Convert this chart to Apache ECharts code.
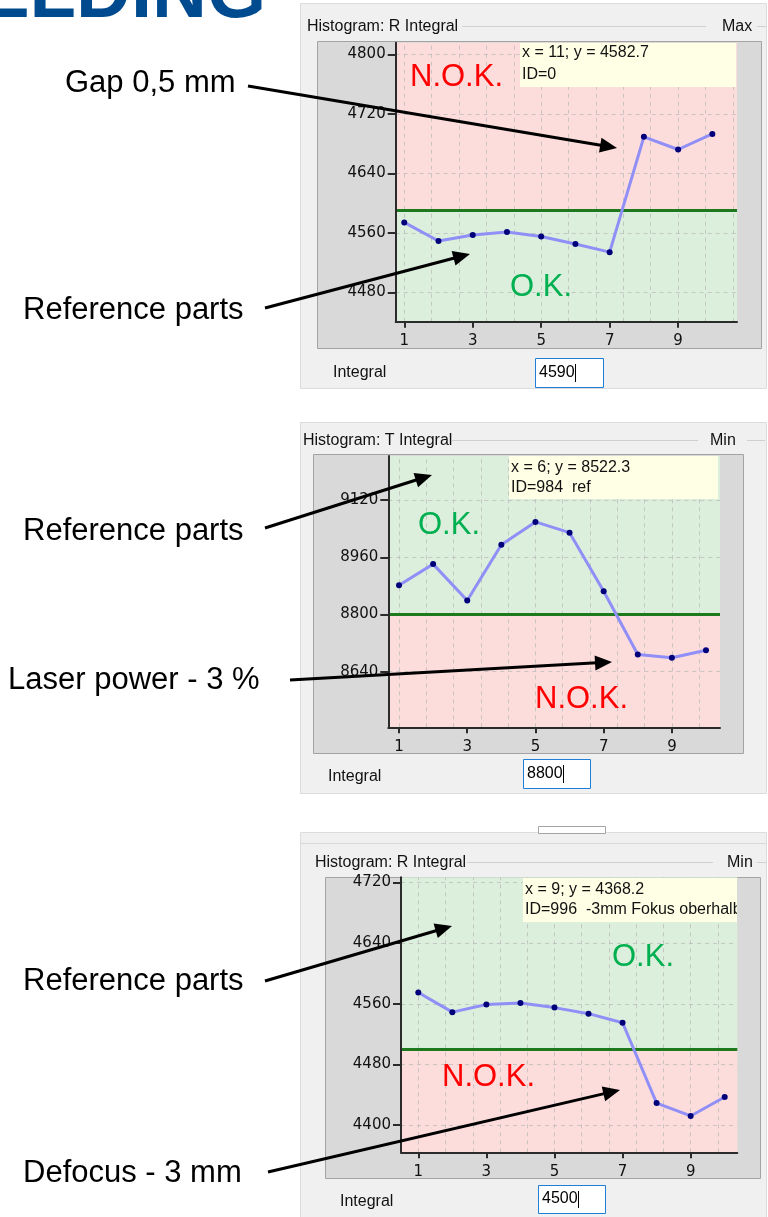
<!DOCTYPE html>
<html>
<head>
<meta charset="utf-8">
<style>
html, body { margin: 0; padding: 0; background: #fff; }
#chart { width: 768px; height: 1217px; }
</style>
<script src="https://cdn.jsdelivr.net/npm/echarts@6/dist/echarts.min.js"></script>
</head>
<body>
<div id="chart"></div>
<script>
// values
const partNo = [1, 2, 3, 4, 5, 6, 7, 8, 9, 10];
const gapValues = [4574, 4549, 4557, 4561, 4555, 4545, 4534, 4689, 4672, 4693];
const laserValues = [8882, 8941, 8839, 8995, 9059, 9029, 8865, 8688, 8679, 8700];
const defocusValues = [4575, 4549, 4559, 4561, 4555, 4547, 4535, 4429, 4412, 4437];
const limits = [4590, 8800, 4500];
const limitModes = ['Max', 'Min', 'Min'];
const xTicks = [1, 3, 5, 7, 9];
const yTicks1 = [4480, 4560, 4640, 4720, 4800];
const yTicks2 = [8640, 8800, 8960, 9120];
const yTicks3 = [4400, 4480, 4560, 4640, 4720];
const xRanges = [[0.75, 10.72], [0.686, 10.41], [0.492, 10.37]];
const yRanges = [[4440.5, 4815.6], [8484.5, 9243.4], [4364, 4727]];
const gridX1 = [1, 1.8, 2.6, 3.4, 4.2, 5, 5.8, 6.6, 7.4, 8.2, 9, 9.8, 10.6];
const gridX2 = [1, 1.8, 2.6, 3.4, 4.2, 5, 5.8, 6.6, 7.4, 8.2, 9, 9.8];
const gridX3 = [1, 1.8, 2.6, 3.4, 4.2, 5, 5.8, 6.6, 7.4, 8.2, 9, 9.8];

const PINK = '#fddcdc';
const GREEN = '#dcefdc';
const UI_FONT = '16px "Liberation Sans", Arial, sans-serif';

// plot area of each screenshot
const panels = [
  { left: 395.7, top: 42.7, width: 341.3, height: 279, values: gapValues, yTicks: yTicks1, gridX: gridX1, nokAbove: true },
  { left: 388.3, top: 456, width: 331.7, height: 271.3, values: laserValues, yTicks: yTicks2, gridX: gridX2, nokAbove: false },
  { left: 401, top: 877.3, width: 336.3, height: 275, values: defocusValues, yTicks: yTicks3, gridX: gridX3, nokAbove: false }
];

const chart = echarts.init(document.getElementById('chart'));

const axisColor = '#2b2b2b';
const grids = [], xAxes = [], yAxes = [], series = [];

panels.forEach((p, i) => {
  const [yMin, yMax] = yRanges[i];
  const thr = limits[i];
  grids.push({ left: p.left, top: p.top, width: p.width, height: p.height });
  xAxes.push({
    gridIndex: i, type: 'value', min: xRanges[i][0], max: xRanges[i][1], z: 4,
    axisLine: { show: true, onZero: false, lineStyle: { color: axisColor, width: 2 } },
    axisTick: { show: true, customValues: xTicks, length: 6, lineStyle: { color: axisColor, width: 2 } },
    axisLabel: { customValues: xTicks, margin: 12, color: '#111', fontFamily: 'DejaVu Sans', fontSize: 15,
      formatter: v => String(v) },
    splitLine: { show: false }
  });
  yAxes.push({
    gridIndex: i, type: 'value', min: yMin, max: yMax, z: 4,
    axisLine: { show: true, onZero: false, lineStyle: { color: axisColor, width: 2 } },
    axisTick: { show: true, customValues: p.yTicks, length: 8, lineStyle: { color: axisColor, width: 2 } },
    axisLabel: { customValues: p.yTicks, margin: 10, color: '#111', fontFamily: 'DejaVu Sans', fontSize: 15,
      formatter: v => String(v) },
    splitLine: { show: false }
  });
  const upper = p.nokAbove ? PINK : GREEN;
  const lower = p.nokAbove ? GREEN : PINK;
  // OK / NOK zones
  series.push({
    type: 'line', xAxisIndex: i, yAxisIndex: i, data: [], silent: true,
    markArea: {
      silent: true, z: 1,
      data: [
        [{ yAxis: yMin, itemStyle: { color: lower } }, { yAxis: thr }],
        [{ yAxis: thr, itemStyle: { color: upper } }, { yAxis: yMax }]
      ]
    }
  });
  // dashed grid and limit line
  const gridLines = p.gridX.map(v => ({ xAxis: v })).concat(p.yTicks.map(v => ({ yAxis: v })));
  gridLines.push({ yAxis: thr, lineStyle: { type: 'solid', color: '#1c7a1c', width: 3 } });
  series.push({
    type: 'line', xAxisIndex: i, yAxisIndex: i, data: [], silent: true,
    markLine: {
      silent: true, z: 2, symbol: 'none', label: { show: false },
      lineStyle: { type: [4, 4], color: 'rgba(185,185,185,0.75)', width: 1 },
      data: gridLines
    }
  });
  series.push({
    type: 'line', xAxisIndex: i, yAxisIndex: i, z: 3,
    data: partNo.map((x, j) => [x, p.values[j]]),
    symbol: 'circle', symbolSize: 6, showSymbol: true,
    itemStyle: { color: '#00007a' },
    lineStyle: { color: '#8f8ff7', width: 3 }
  });
});

// widget chrome, labels, arrows
const g = [];
function rect(x, y, w, h, fill, stroke, z) {
  g.push({ type: 'rect', z: z || 0, silent: true, shape: { x: x, y: y, width: w, height: h },
    style: { fill: fill, stroke: stroke || null, lineWidth: 1 } });
}
function hline(x1, x2, y, color, z) {
  g.push({ type: 'line', z: z || 0, silent: true, shape: { x1: x1, y1: y, x2: x2, y2: y },
    style: { stroke: color, lineWidth: 1 } });
}
function text(str, x, y, font, fill, z, align) {
  g.push({ type: 'text', z: z || 0, silent: true, x: x, y: y,
    style: { text: str, font: font, fill: fill, align: align || 'left', verticalAlign: 'middle',
      textAlign: align || 'left', textVerticalAlign: 'middle' } });
}

const chrome = [
  { bg: [300, 3, 466, 385], title: ['Histogram: R Integral', 307, 27], gl: [462, 706, 26.5], mode: [722, 27], ml: [757, 766],
    frame: [317, 41, 444, 307], integral: [333, 373], input: [535, 358, 68, 29, '4590'],
    tip: [520, 43, 216, 44], tipLines: [['x = 11; y = 4582.7', 53], ['ID=0', 75]] },
  { bg: [300, 422, 466, 371], title: ['Histogram: T Integral', 303, 441], gl: [452, 698, 440.5], mode: [710, 441], ml: [747, 765],
    frame: [313, 454, 430, 299], integral: [328, 777], input: [523, 759, 67, 29, '8800'],
    tip: [509, 456, 209, 43], tipLines: [['x = 6; y = 8522.3', 467.7], ['ID=984  ref', 487.7]] },
  { bg: [300, 832, 466, 385], title: ['Histogram: R Integral', 315, 862.7], gl: [467, 713, 862.5], mode: [727, 862.7], ml: [757, 766],
    frame: [325, 877, 435, 301], integral: [340, 1202], input: [538, 1185, 67, 28, '4500'],
    tip: [523, 878, 214, 44], tipLines: [['x = 9; y = 4368.2', 889.3], ['ID=996  -3mm Fokus oberhalb', 910]] }
];

chrome.forEach((c, i) => {
  rect(c.bg[0] + 0.5, c.bg[1] + 0.5, c.bg[2], c.bg[3], '#f0f0f0', '#dcdcdc', -5);
  text(c.title[0], c.title[1], c.title[2], UI_FONT, '#111', 1);
  hline(c.gl[0], c.gl[1], c.gl[2], '#d0d0d0', 1);
  text(limitModes[i], c.mode[0], c.mode[1], UI_FONT, '#111', 1);
  hline(c.ml[0], c.ml[1], c.gl[2], '#d0d0d0', 1);
  rect(c.frame[0] + 0.5, c.frame[1] + 0.5, c.frame[2], c.frame[3], '#d9d9d9', '#a3a3a3', -4);
  text('Integral', c.integral[0], c.integral[1], UI_FONT, '#111', 1);
  const inp = c.input;
  rect(inp[0] + 0.5, inp[1] + 0.5, inp[2], inp[3], '#ffffff', '#1e7fd6', 1);
  text(inp[4], inp[0] + 4, inp[1] + inp[3] / 2, UI_FONT, '#000', 2);
  g.push({ type: 'line', z: 2, silent: true,
    shape: { x1: inp[0] + 40.5, y1: inp[1] + 6, x2: inp[0] + 40.5, y2: inp[1] + inp[3] - 5 },
    style: { stroke: '#000', lineWidth: 1 } });
  rect(c.tip[0], c.tip[1], c.tip[2], c.tip[3], '#ffffe6', null, 20);
  c.tipLines.forEach(t => text(t[0], c.tip[0] + 2, t[1], UI_FONT, '#111', 21));
});
// clip the long tooltip line in the third screenshot
rect(737, 878, 23, 44, '#d9d9d9', null, 22);
// the separator and the bottom of an input box above the third widget
hline(300, 766, 843.5, '#d8d8d8', 1);
rect(538.5, 826.5, 67, 7, '#ffffff', '#a3a3a3', 1);

// OK / NOK captions
const BIG = '31px "Liberation Sans", Arial, sans-serif';
[['N.O.K.', 410, 77, '#ff0000'], ['O.K.', 510, 287, '#00b050'],
 ['O.K.', 418, 525, '#00b050'], ['N.O.K.', 535, 699, '#ff0000'],
 ['O.K.', 612, 957, '#00b050'], ['N.O.K.', 442, 1077, '#ff0000']]
  .forEach(t => text(t[0], t[1], t[2], BIG, t[3], 30));

// title fragment at the top
g.push({ type: 'text', z: 30, silent: true, x: 266, y: -3.6,
  style: { text: 'WELDING', font: 'bold 76px "Liberation Sans", Arial, sans-serif', fill: '#004a8f',
    align: 'right', verticalAlign: 'middle', textAlign: 'right', textVerticalAlign: 'middle' } });

// annotations on the left
const NOTE = '31px "Liberation Sans", Arial, sans-serif';
[['Gap 0,5 mm', 65, 83], ['Reference parts', 23, 310], ['Reference parts', 23, 531],
 ['Laser power - 3 %', 8, 680], ['Reference parts', 23, 981], ['Defocus - 3 mm', 23, 1173]]
  .forEach(t => text(t[0], t[1], t[2], NOTE, '#000', 30));

// arrows
const arrows = [[248, 86, 617, 148], [265, 308, 470, 254], [265, 528, 432, 475],
  [290, 680, 612, 662], [265, 981, 452, 926], [268, 1172, 620, 1090]];
arrows.forEach(a => {
  const [x1, y1, x2, y2] = a;
  const len = Math.hypot(x2 - x1, y2 - y1);
  const ux = (x2 - x1) / len, uy = (y2 - y1) / len;
  const hl = 17, hw = 7.5;
  const bx = x2 - ux * hl, by = y2 - uy * hl;
  g.push({ type: 'line', z: 40, silent: true, shape: { x1: x1, y1: y1, x2: bx + ux * 2, y2: by + uy * 2 },
    style: { stroke: '#000', lineWidth: 3 } });
  g.push({ type: 'polygon', z: 40, silent: true,
    shape: { points: [[x2, y2], [bx - uy * hw, by + ux * hw], [bx + uy * hw, by - ux * hw]] },
    style: { fill: '#000' } });
});

chart.setOption({
  animation: false,
  backgroundColor: '#ffffff',
  grid: grids,
  xAxis: xAxes,
  yAxis: yAxes,
  series: series,
  graphic: g
});
</script>
</body>
</html>
